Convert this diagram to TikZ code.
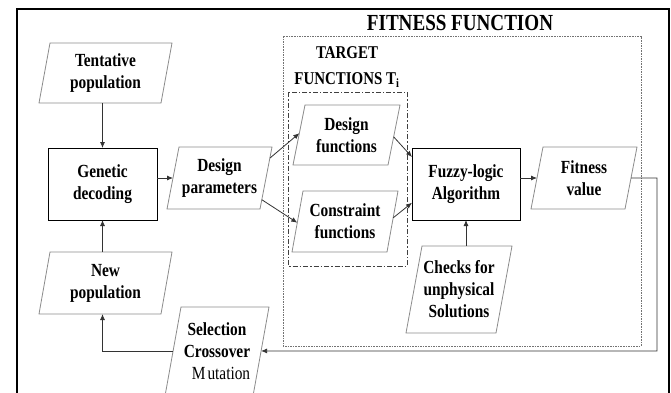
\documentclass[tikz,border=0pt]{standalone}
\usepackage{fontspec}
\setmainfont{Liberation Serif}[FakeStretch=0.83]
\usetikzlibrary{calc,arrows.meta}
\tikzset{
  txt/.style={font=\bfseries\fontsize{18.5}{22}\selectfont, align=center, inner sep=0pt, outer sep=0pt},
  paraline/.style={draw=black!45, line width=0.8pt},
  rectbox/.style={txt, draw=black, line width=0.9pt},
  arr/.style={draw=black!80, line width=0.8pt, -{Latex[length=6pt,width=5pt]}},
  dotbox/.style={draw=black!55, line width=0.9pt, dash pattern=on 1.6pt off 1pt},
  dashdotbox/.style={draw=black!75, line width=0.9pt, dash pattern=on 5pt off 2pt on 1.5pt off 2pt},
  frame/.style={draw=black, line width=1.6pt},
}
% \paranode{name}{cx}{cy}{width}{height}{slant}{text}
\newcommand{\paranode}[7]{%
  \node[txt, minimum width=#4pt, minimum height=#5pt] (#1) at (#2,#3) {#7};
  \draw[paraline] ([xshift=#6pt]#1.north west) -- (#1.north east) -- ([xshift=-#6pt]#1.south east) -- (#1.south west) -- cycle;
}
\begin{document}
\begin{tikzpicture}[x=1pt,y=-1pt]
\useasboundingbox (0,0) rectangle (671,392);
\clip (0,0) rectangle (671,392);
\fill[white] (0,0) rectangle (671,392);

% outer frame
\draw[frame] (17,400) -- (17,9) -- (669,9) -- (669,400);

% fitness function box
\draw[dotbox] (283,36) rectangle (641,346);
\node[font=\bfseries\fontsize{23}{26}\selectfont, inner sep=0pt] (fftitle) at (460,23) {FITNESS FUNCTION};

% target functions box
\draw[dashdotbox] (288,92) rectangle (407,266);
\node[txt, font=\bfseries\fontsize{18}{26}\selectfont] (tftitle) at (347,67) {TARGET\\FUNCTIONS T\textsubscript{i}};

% nodes
\paranode{tent}{105.5}{73}{133}{60}{11}{Tentative\\population}
\node[rectbox, minimum width=109pt, minimum height=72pt] (gen) at (102.5,184) {Genetic\\decoding};
\paranode{dp}{219.5}{178}{105}{62}{12}{Design\\parameters}
\paranode{df}{346.5}{135}{107}{60}{12}{Design\\functions}
\paranode{cf}{345}{221.5}{106}{61}{11}{Constraint\\functions}
\node[rectbox, minimum width=108pt, minimum height=72pt] (fz) at (466,184) {Fuzzy-logic\\Algorithm};
\paranode{fv}{584}{178}{106}{62}{12}{Fitness\\value}
\paranode{ck}{459}{289.5}{106}{87}{16}{Checks for\\unphysical\\Solutions}
\paranode{np}{105.5}{283}{133}{62}{11}{New\\population}
\paranode{sel}{217}{351.5}{104}{89}{16}{Selection\\Crossover\\\hspace*{8pt}{\mdseries M\hspace{2pt}utation}}

% anchor points on slanted sides
\coordinate (dpin) at ($([xshift=12pt]dp.north west)!0.5!(dp.south west)$);
\coordinate (dpo1) at ($(dp.north east)!0.18!([xshift=-12pt]dp.south east)$);
\coordinate (dpo2) at ($(dp.north east)!0.85!([xshift=-12pt]dp.south east)$);
\coordinate (dfin) at ($([xshift=12pt]df.north west)!0.47!(df.south west)$);
\coordinate (dfout) at ($(df.north east)!0.53!([xshift=-12pt]df.south east)$);
\coordinate (cfin) at ($([xshift=11pt]cf.north west)!0.52!(cf.south west)$);
\coordinate (cfout) at ($(cf.north east)!0.44!([xshift=-11pt]cf.south east)$);
\coordinate (fzin1) at ($(fz.north west)!0.125!(fz.south west)$);
\coordinate (fzin2) at ($(fz.north west)!0.76!(fz.south west)$);
\coordinate (fvin) at ($([xshift=12pt]fv.north west)!0.5!(fv.south west)$);
\coordinate (fvout) at ($(fv.north east)!0.5!([xshift=-12pt]fv.south east)$);
\coordinate (selin) at ($(sel.north east)!0.494!([xshift=-16pt]sel.south east)$);
\coordinate (selout) at ($([xshift=16pt]sel.north west)!0.494!(sel.south west)$);
\coordinate (fbx) at (657,351);

% connectors
\draw[arr] (gen.north |- tent.south) -- (gen.north);
\draw[arr] (gen.east |- dpin) -- (dpin);
\draw[arr] (dpo1) -- (dfin);
\draw[arr] (dpo2) -- (cfin);
\draw[arr] (dfout) -- (fzin1);
\draw[arr] (cfout) -- (fzin2);
\draw[arr] (fz.east |- fvin) -- (fvin);
\draw[arr] (fz.south |- ck.north) -- (fz.south);
\draw[arr] (fvout) -| (fbx) -- (selin);
\draw[arr] (selout) -| (gen.south |- np.south);
\draw[arr] (gen.south |- np.north) -- (gen.south);
\end{tikzpicture}
\end{document}
